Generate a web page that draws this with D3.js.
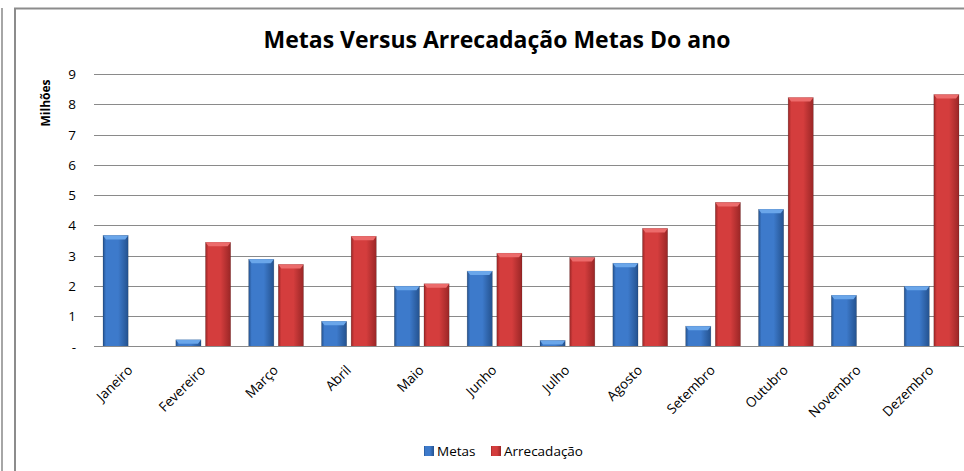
<!DOCTYPE html>
<html>
<head>
<meta charset="utf-8">
<script src="https://cdn.jsdelivr.net/npm/d3@7"></script>
<style>
  body { margin: 0; background: #fff; }
  svg { display: block; font-family: "Open Sans", sans-serif; }
</style>
</head>
<body>
<script>
    // chart data
    var months = ["Janeiro", "Fevereiro", "Março", "Abril", "Maio", "Junho",
                  "Julho", "Agosto", "Setembro", "Outubro", "Novembro", "Dezembro"];
    var series = ["Metas", "Arrecadação"];
    var metas = [3.67, 0.22, 2.88, 0.83, 1.99, 2.49, 0.20, 2.75, 0.67, 4.53, 1.69, 1.99];
    var arrecadacao = [0, 3.44, 2.71, 3.64, 2.07, 3.08, 2.94, 3.90, 4.76, 8.22, 0, 8.32];
    var yTicks = [0, 1, 2, 3, 4, 5, 6, 7, 8, 9];

    var width = 964, height = 471;
    var plot = {left: 94, right: 968, top: 74, bottom: 346.5};

    var svg = d3.select("body")
        .append("svg").attr("width", width).attr("height", height);

    // outer frames
    svg.append("line").attr("x1", 2).attr("x2", 2).attr("y1", 8).attr("y2", height)
        .style("stroke", "#a6a6a6").style("stroke-width", 2);
    svg.append("path").attr("d", "M15," + height + "V8.5H" + width)
        .style("fill", "none").style("stroke", "#8c8c8c").style("stroke-width", 2);

    // gradients for the bevelled bars
    var defs = svg.append("defs");
    function grad(id, edge, mid) {
        var g = defs.append("linearGradient").attr("id", id)
            .attr("x1", "0").attr("x2", "1").attr("y1", "0").attr("y2", "0");
        g.append("stop").attr("offset", "0").attr("stop-color", edge);
        g.append("stop").attr("offset", "0.12").attr("stop-color", mid);
        g.append("stop").attr("offset", "0.6").attr("stop-color", mid);
        g.append("stop").attr("offset", "1").attr("stop-color", edge);
    }
    grad("gMetas", "#24528f", "#3d7acb");
    grad("gArrec", "#9a2626", "#d43d3d");
    var topColor = {"Metas": "#6aa6ea", "Arrecadação": "#ec6b6b"};
    var fillId = {"Metas": "url(#gMetas)", "Arrecadação": "url(#gArrec)"};

    var x0 = d3.scaleBand().domain(months).range([plot.left, plot.right]).padding(0);
    var x1 = d3.scaleBand().domain(series)
        .range([9, x0.bandwidth() - 9]).paddingInner(0.15).paddingOuter(0);
    var y = d3.scaleLinear().domain([0, 9]).range([plot.bottom, plot.top]);

    // gridlines
    svg.append("g").selectAll("line").data(yTicks.filter(function(d){ return d > 0; }))
        .enter().append("line")
        .attr("x1", plot.left).attr("x2", width)
        .attr("y1", function(d){ return Math.round(y(d)) + 0.5; })
        .attr("y2", function(d){ return Math.round(y(d)) + 0.5; })
        .style("stroke", "#8a8a8a").style("stroke-width", 1);

    // y tick labels
    svg.append("g").selectAll("text").data(yTicks).enter().append("text")
        .attr("x", 76)
        .attr("y", function(d){ return y(d) + 5; })
        .attr("text-anchor", "end")
        .style("font-size", "13.5px").style("fill", "#000")
        .text(function(d){ return d === 0 ? "-" : d; });

    // y axis title
    svg.append("text")
        .attr("transform", "translate(50,103) rotate(-90)")
        .attr("text-anchor", "middle")
        .style("font-size", "12px").style("font-weight", "bold")
        .text("Milhões");

    // bars
    var rows = months.map(function(m, i){
        return {month: m, values: [{s: "Metas", v: metas[i]}, {s: "Arrecadação", v: arrecadacao[i]}]};
    });
    var groups = svg.append("g").selectAll("g").data(rows).enter().append("g")
        .attr("transform", function(d){ return "translate(" + x0(d.month) + ",0)"; });
    var bars = groups.selectAll("g").data(function(d){ return d.values.filter(function(e){ return e.v > 0; }); })
        .enter().append("g");
    bars.append("rect")
        .attr("x", function(d){ return x1(d.s); })
        .attr("y", function(d){ return y(d.v); })
        .attr("width", x1.bandwidth())
        .attr("height", function(d){ return plot.bottom - y(d.v); })
        .style("fill", function(d){ return fillId[d.s]; })
        .style("stroke", "rgba(0,0,0,0.25)").style("stroke-width", 0.6);
    bars.append("path")
        .attr("d", function(d){
            var bx = x1(d.s), by = y(d.v), w = x1.bandwidth();
            var h = Math.min(4, plot.bottom - by);
            return "M" + bx + "," + by + "h" + w + "l-3," + h + "h" + (6 - w) + "z";
        })
        .style("fill", function(d){ return topColor[d.s]; });

    // baseline
    svg.append("line").attr("x1", plot.left).attr("x2", width)
        .attr("y1", plot.bottom).attr("y2", plot.bottom)
        .style("stroke", "#8a8a8a").style("stroke-width", 1);

    // x labels
    svg.append("g").selectAll("text").data(months).enter().append("text")
        .attr("transform", function(d){
            return "translate(" + (x0(d) + x0.bandwidth() / 2 + 3) + ",371) rotate(-45)";
        })
        .attr("text-anchor", "end")
        .style("font-size", "13.5px")
        .text(function(d){ return d; });

    // title
    svg.append("text")
        .attr("x", 497).attr("y", 48)
        .attr("text-anchor", "middle")
        .style("font-size", "23px").style("font-weight", "bold")
        .text("Metas Versus Arrecadação Metas Do ano");

    // legend
    var legendX = [424, 491];
    var legend = svg.append("g").selectAll("g").data(series).enter().append("g")
        .attr("transform", function(d, i){ return "translate(" + legendX[i] + ",446)"; });
    legend.append("rect").attr("width", 10).attr("height", 10)
        .style("fill", function(d){ return fillId[d]; });
    legend.append("text").attr("x", 13).attr("y", 10)
        .style("font-size", "13.5px")
        .text(function(d){ return d; });
</script>
</body>
</html>
